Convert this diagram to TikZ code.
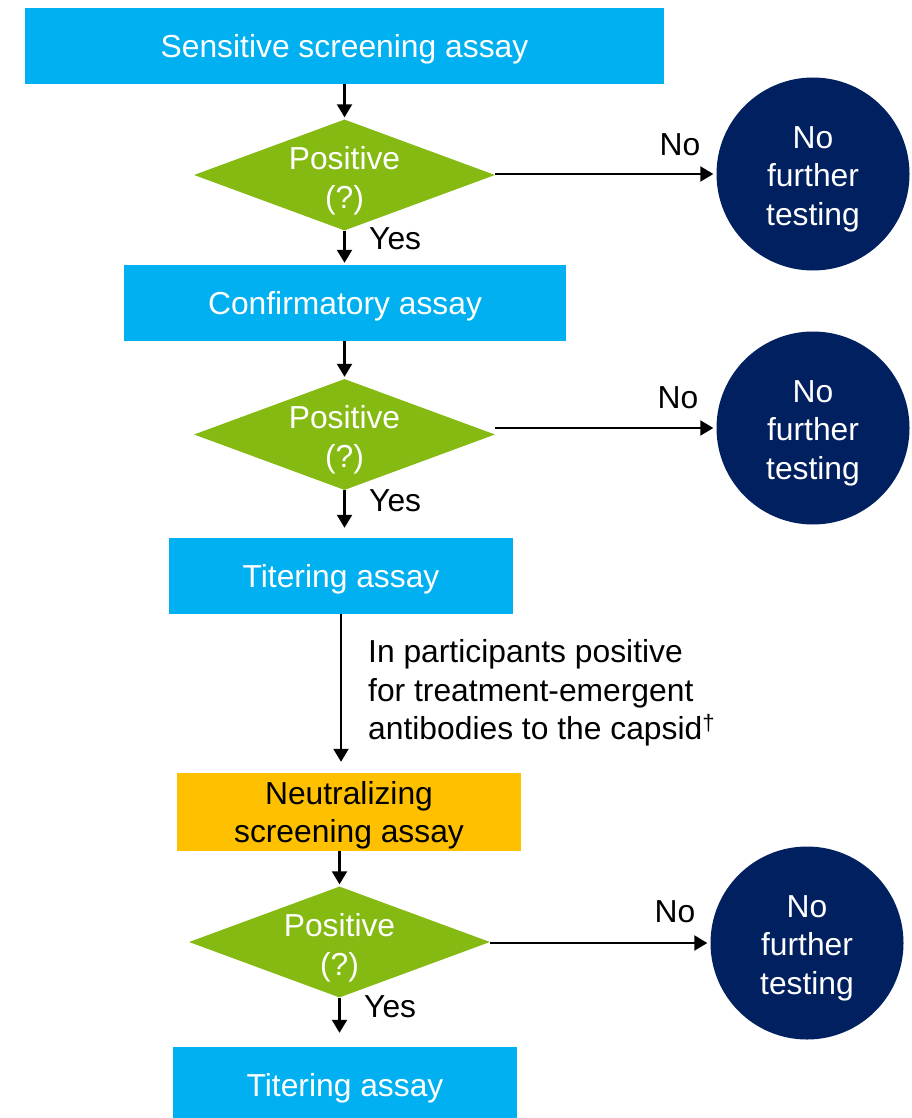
\documentclass[tikz,border=0pt]{standalone}
\usepackage{fontspec}
\setmainfont{Liberation Sans}
\usetikzlibrary{shapes.geometric,arrows.meta}
\definecolor{cyanbox}{RGB}{0,176,240}
\definecolor{greendia}{RGB}{132,186,18}
\definecolor{navy}{RGB}{0,32,96}
\definecolor{amber}{RGB}{255,192,0}
\begin{document}
\begin{tikzpicture}[x=1pt,y=-1pt,
  every node/.style={font=\fontsize{31.8}{38.5}\selectfont},
  bluebox/.style={rectangle,fill=cyanbox,text=white,inner sep=0pt,minimum height=76pt,align=center,text depth=-3.5pt},
  ambbox/.style={rectangle,fill=amber,text=black,inner sep=0pt,minimum height=78pt,align=center,text depth=-3pt},
  dia/.style={diamond,fill=greendia,inner sep=0pt,minimum width=301pt,minimum height=111pt},
  diatext/.style={text=white,align=center,inner sep=0pt},
  endcirc/.style={circle,fill=navy,minimum size=193pt,inner sep=0pt},
  circtext/.style={text=white,align=center,inner sep=0pt,yshift=-5pt},
  lbl/.style={text=black,inner sep=0pt},
  arr/.style={line width=2.1pt,-{Triangle[length=13pt,width=15pt]}}]
\useasboundingbox (0,0) rectangle (912,1118);
% nodes
\node[bluebox,minimum width=639pt] (b1) at (344.5,46) {Sensitive screening assay};
\node[dia] (d1) at (344.5,175) {};
\node[diatext] (t1) at (344.5,181) {Positive\\(?)};
\node[endcirc] (c1) at (813,174) {};
\node[circtext] (ct1) at (c1) {No\\further\\testing};
\node[bluebox,minimum width=442pt] (b2) at (345,303) {Confirmatory assay};
\node[dia] (d2) at (344.5,434.5) {};
\node[diatext] (t2) at (344.5,440) {Positive\\(?)};
\node[endcirc] (c2) at (813,428) {};
\node[circtext] (ct2) at (c2) {No\\further\\testing};
\node[bluebox,minimum width=344pt] (b3) at (341,576) {Titering assay};
\node[lbl,anchor=west,align=left] (note) at (368,693) {In participants positive\\for treatment-emergent\\antibodies to the capsid\textsuperscript{†}};
\node[ambbox,minimum width=344pt] (b4) at (349,812) {Neutralizing\\screening assay};
\node[dia] (d3) at (339.5,942) {};
\node[diatext] (t3) at (339.5,948) {Positive\\(?)};
\node[endcirc] (c3) at (807,943) {};
\node[circtext] (ct3) at (c3) {No\\further\\testing};
\node[bluebox,minimum width=344pt] (b5) at (345,1085) {Titering assay};
% labels
\node[lbl,anchor=west] (y1) at (369,239) {Yes};
\node[lbl,anchor=west] (y2) at (369,501) {Yes};
\node[lbl,anchor=west] (y3) at (364,1007) {Yes};
\node[lbl] (n1) at (680,145) {No};
\node[lbl] (n2) at (678,398) {No};
\node[lbl] (n3) at (675,912) {No};
% connectors
\draw[arr,shorten >=2pt] (b1.south) -- (d1.north);
\draw[arr,shorten >=2pt] (d1.south) -- (d1.south |- b2.north);
\draw[arr,shorten >=3pt] (d1.east |- c1.west) -- (c1.west);
\draw[arr,shorten >=2pt] (b2.south -| d2.north) -- (d2.north);
\draw[arr,shorten >=10pt] (d2.south) -- (d2.south |- b3.north);
\draw[arr,shorten >=3pt] (d2.east |- c2.west) -- (c2.west);
\draw[arr,shorten >=11pt] (b3.south) -- (b3.south |- b4.north);
\draw[arr,shorten >=2pt] (d3.north |- b4.south) -- (d3.north);
\draw[arr,shorten >=14pt] (d3.south) -- (d3.south |- b5.north);
\draw[arr,shorten >=3pt] (d3.east |- c3.west) -- (c3.west);
\end{tikzpicture}
\end{document}
